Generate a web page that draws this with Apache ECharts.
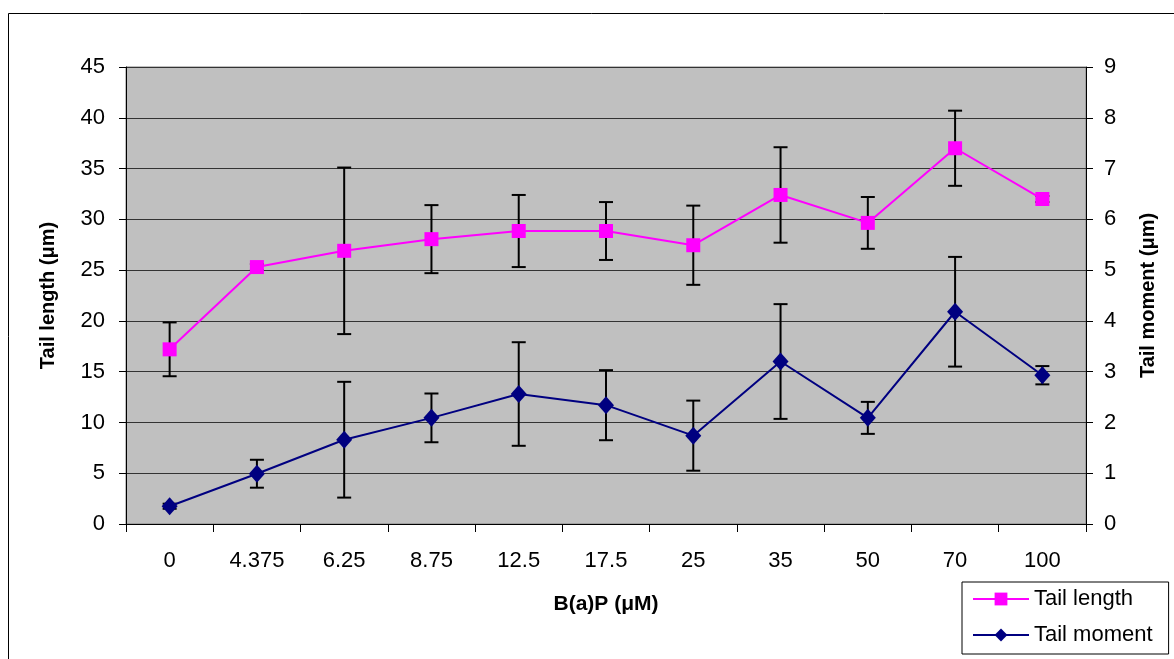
<!DOCTYPE html>
<html><head><meta charset="utf-8">
<script src="https://cdn.jsdelivr.net/npm/echarts@6/dist/echarts.min.js"></script>
<style>html,body{margin:0;padding:0;background:#fff}#c{width:1174px;height:659px}</style>
</head><body><div id="c"></div>
<script>
var categories = ['0','4.375','6.25','8.75','12.5','17.5','25','35','50','70','100'];
var tailLength = [17.2, 25.3, 26.9, 28.05, 28.85, 28.85, 27.45, 32.4, 29.65, 37.0, 32.0];
var tailLengthErr = [2.65, 0.3, 8.2, 3.35, 3.55, 2.85, 3.9, 4.7, 2.55, 3.7, 0.3];
var tailMoment = [0.35, 0.99, 1.66, 2.09, 2.56, 2.34, 1.74, 3.2, 2.09, 4.18, 2.93];
var tailMomentErr = [0.05, 0.275, 1.14, 0.48, 1.02, 0.69, 0.69, 1.13, 0.315, 1.08, 0.18];
var leftTicks = {min: 0, max: 45, interval: 5};
var rightTicks = {min: 0, max: 9, interval: 1};

function errData(vals, errs){
  return vals.map(function(v,i){ return [i, v - errs[i], v + errs[i]]; });
}
function renderErr(params, api){
  var i = api.value(0);
  var lo = api.coord([i, api.value(1)]);
  var hi = api.coord([i, api.value(2)]);
  var w = 7;
  var st = {stroke:'#000', lineWidth:2};
  return {type:'group', children:[
    {type:'line', shape:{x1:hi[0],y1:hi[1],x2:lo[0],y2:lo[1]}, style:st},
    {type:'line', shape:{x1:hi[0]-w,y1:hi[1],x2:hi[0]+w,y2:hi[1]}, style:st},
    {type:'line', shape:{x1:lo[0]-w,y1:lo[1],x2:lo[0]+w,y2:lo[1]}, style:st}
  ]};
}
var font = 'Liberation Sans, Arial, sans-serif';
var chart = echarts.init(document.getElementById('c'));
chart.setOption({
  animation:false,
  backgroundColor:'#fff',
  textStyle:{fontFamily:font},
  graphic:[{type:'rect', shape:{x:8.5,y:13.5,width:1200,height:700}, style:{fill:null, stroke:'#000', lineWidth:1}, z:-1}],
  grid:{left:126, top:67, right:88, bottom:135, show:true, backgroundColor:'#C0C0C0', borderColor:'#808080', borderWidth:1},
  legend:{
    orient:'vertical', left:962, top:582, padding:[6,16,8,10],
    data:['Tail length','Tail moment'],
    itemWidth:56, itemHeight:16, itemGap:14,
    backgroundColor:'#fff', borderColor:'#000', borderWidth:1,
    textStyle:{fontFamily:font, fontSize:22, color:'#000'}
  },
  xAxis:{
    type:'category', data:categories, boundaryGap:true,
    name:'B(a)P (μM)', nameLocation:'middle', nameGap:70,
    nameTextStyle:{fontFamily:font, fontSize:21, fontWeight:'bold', color:'#000'},
    axisLine:{lineStyle:{color:'#000', width:1}},
    axisTick:{show:true, length:8, lineStyle:{color:'#000'}},
    axisLabel:{fontFamily:font, fontSize:22, color:'#000', margin:26}
  },
  yAxis:[{
    type:'value', min:leftTicks.min, max:leftTicks.max, interval:leftTicks.interval,
    name:'Tail length (μm)', nameLocation:'middle', nameRotate:90, nameGap:68,
    nameTextStyle:{fontFamily:font, fontSize:20, fontWeight:'bold', color:'#000'},
    axisLine:{show:true, lineStyle:{color:'#000'}},
    axisTick:{show:true, length:7, lineStyle:{color:'#000'}},
    axisLabel:{fontFamily:font, fontSize:22, color:'#000', margin:21},
    splitLine:{show:true, lineStyle:{color:'#333', width:1}}
  },{
    type:'value', min:rightTicks.min, max:rightTicks.max, interval:rightTicks.interval,
    name:'Tail moment (μm)', nameLocation:'middle', nameRotate:90, nameGap:52,
    nameTextStyle:{fontFamily:font, fontSize:20, fontWeight:'bold', color:'#000'},
    axisLine:{show:true, lineStyle:{color:'#000'}},
    axisTick:{show:true, length:7, lineStyle:{color:'#000'}},
    axisLabel:{fontFamily:font, fontSize:22, color:'#000', margin:18},
    splitLine:{show:false}
  }],
  series:[
    {type:'custom', name:'lenErr', yAxisIndex:0, renderItem:renderErr, data:errData(tailLength, tailLengthErr), z:2},
    {type:'custom', name:'momErr', yAxisIndex:1, renderItem:renderErr, data:errData(tailMoment, tailMomentErr), z:2},
    {type:'line', name:'Tail length', yAxisIndex:0, data:tailLength, symbol:'rect', symbolSize:14,
     itemStyle:{color:'#FF00FF'}, lineStyle:{color:'#FF00FF', width:2}, z:3},
    {type:'line', name:'Tail moment', yAxisIndex:1, data:tailMoment, symbol:'diamond', symbolSize:[16,18],
     itemStyle:{color:'#000080'}, lineStyle:{color:'#000080', width:2}, z:3}
  ]
});
</script></body></html>
